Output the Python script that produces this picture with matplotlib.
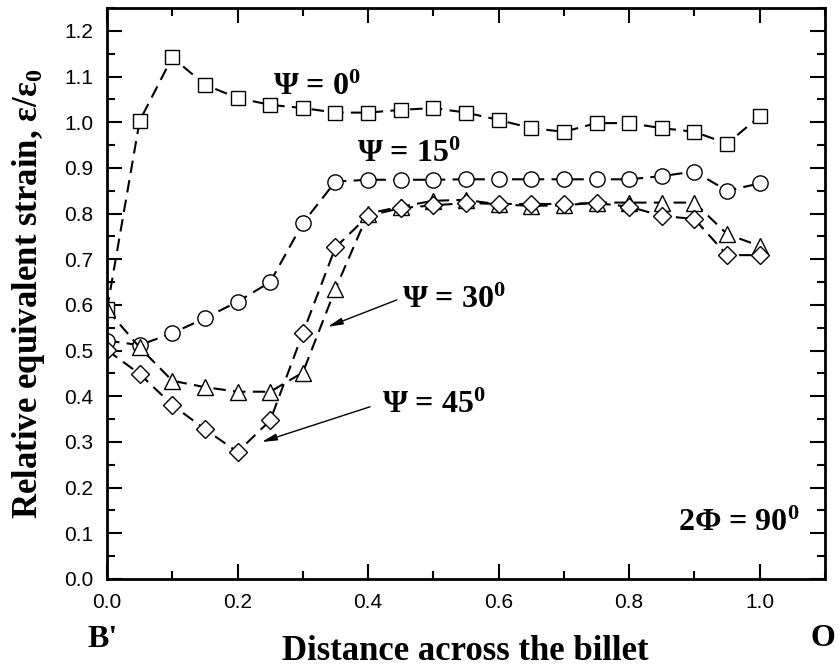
import matplotlib
matplotlib.use("Agg")
from matplotlib import pyplot as plt
from matplotlib.ticker import MultipleLocator

# values
x = [0.0, 0.05, 0.1, 0.15, 0.2, 0.25, 0.3, 0.35, 0.4, 0.45, 0.5,
     0.55, 0.6, 0.65, 0.7, 0.75, 0.8, 0.85, 0.9, 0.95, 1.0]
psi0 = [0.59, 1.003, 1.142, 1.082, 1.053, 1.038, 1.031, 1.021, 1.021, 1.027, 1.031,
        1.021, 1.005, 0.987, 0.979, 0.998, 0.998, 0.987, 0.979, 0.953, 1.013]
psi15 = [0.522, 0.512, 0.538, 0.571, 0.607, 0.650, 0.779, 0.870, 0.874, 0.874, 0.874,
         0.875, 0.875, 0.875, 0.875, 0.875, 0.875, 0.882, 0.892, 0.850, 0.866]
psi30 = [0.590, 0.507, 0.434, 0.420, 0.410, 0.410, 0.452, 0.635, 0.800, 0.815, 0.828,
         0.830, 0.820, 0.817, 0.818, 0.824, 0.824, 0.824, 0.824, 0.755, 0.729]
psi45 = [0.501, 0.449, 0.381, 0.328, 0.278, 0.347, 0.538, 0.726, 0.795, 0.812, 0.818,
         0.823, 0.821, 0.821, 0.821, 0.823, 0.815, 0.795, 0.788, 0.709, 0.709]

serif = "Liberation Serif"
sans = "Liberation Sans"
plt.rcParams['mathtext.fontset'] = 'custom'
plt.rcParams['mathtext.rm'] = 'Liberation Serif'
plt.rcParams['mathtext.it'] = 'Liberation Serif:italic'
plt.rcParams['mathtext.bf'] = 'Liberation Serif:bold'

fig = plt.figure(figsize=(8.38, 6.69), dpi=100)
ax = fig.add_axes([107 / 838, 1 - 579 / 669, 718 / 838, 571 / 669])

dash = (0, (6, 3.5))
style = dict(color='k', linestyle=dash, linewidth=1.5, markerfacecolor='white',
             markeredgecolor='k', markeredgewidth=1)
ax.plot(x, psi0, marker='s', markersize=9.5, **style)
ax.plot(x, psi15, marker='o', markersize=11, **style)
ax.plot(x, psi30, marker='^', markersize=11.5, **style)
ax.plot(x, psi45, marker='D', markersize=9.5, **style)

ax.set_xlim(0, 1.1)
ax.set_ylim(0, 1.25)
ax.xaxis.set_major_locator(MultipleLocator(0.2))
ax.xaxis.set_minor_locator(MultipleLocator(0.1))
ax.yaxis.set_major_locator(MultipleLocator(0.1))
ax.yaxis.set_minor_locator(MultipleLocator(0.05))
ax.tick_params(which='both', direction='in', top=True, right=True, width=1.5, pad=10)
ax.tick_params(which='major', length=11)
ax.tick_params(which='minor', length=6)
ax.set_xticks([0.0, 0.2, 0.4, 0.6, 0.8, 1.0])
ax.set_xticklabels(['0.0', '0.2', '0.4', '0.6', '0.8', '1.0'], fontfamily=sans, fontsize=15)
yt = [round(0.1 * i, 1) for i in range(13)]
ax.set_yticks(yt)
ax.set_yticklabels(['%.1f' % v for v in yt], fontfamily=sans, fontsize=15)
for s in ax.spines.values():
    s.set_linewidth(2)

ax.set_ylabel(r'Relative equivalent strain, ε/ε$_\mathbf{0}$',
              fontfamily=serif, fontweight='bold', fontsize=25)
ax.yaxis.set_label_coords(-0.083, 0.5)

fig.text(465 / 838, 1 - 660 / 669, 'Distance across the billet', fontfamily=serif,
         fontweight='bold', fontsize=25, ha='center', va='baseline')
fig.text(103 / 838, 1 - 647 / 669, "B'", fontfamily=serif, fontweight='bold',
         fontsize=23, ha='center', va='baseline')
fig.text(823 / 838, 1 - 646 / 669, "O", fontfamily=serif, fontweight='bold',
         fontsize=23, ha='center', va='baseline')

tkw = dict(fontfamily=serif, fontweight='bold', fontsize=23)
akw = dict(arrowstyle='-|>,head_length=0.9,head_width=0.2', color='k', lw=1,
           shrinkA=0, shrinkB=0)
ax.text(0.254, 1.060, r'Ψ = 0$^\mathbf{0}$', ha='left', va='baseline', **tkw)
ax.text(0.383, 0.913, r'Ψ = 15$^\mathbf{0}$', ha='left', va='baseline', **tkw)
ax.text(0.452, 0.593, r'Ψ = 30$^\mathbf{0}$', ha='left', va='baseline', **tkw)
ax.annotate('', xy=(0.338, 0.552), xytext=(0.444, 0.611), arrowprops=akw)
ax.text(0.421, 0.363, r'Ψ = 45$^\mathbf{0}$', ha='left', va='baseline', **tkw)
ax.annotate('', xy=(0.237, 0.300), xytext=(0.403, 0.377), arrowprops=akw)
ax.text(1.061, 0.105, r'2Φ = 90$^\mathbf{0}$', ha='right', va='baseline', **tkw)

fig.savefig('out.png', dpi=100)
